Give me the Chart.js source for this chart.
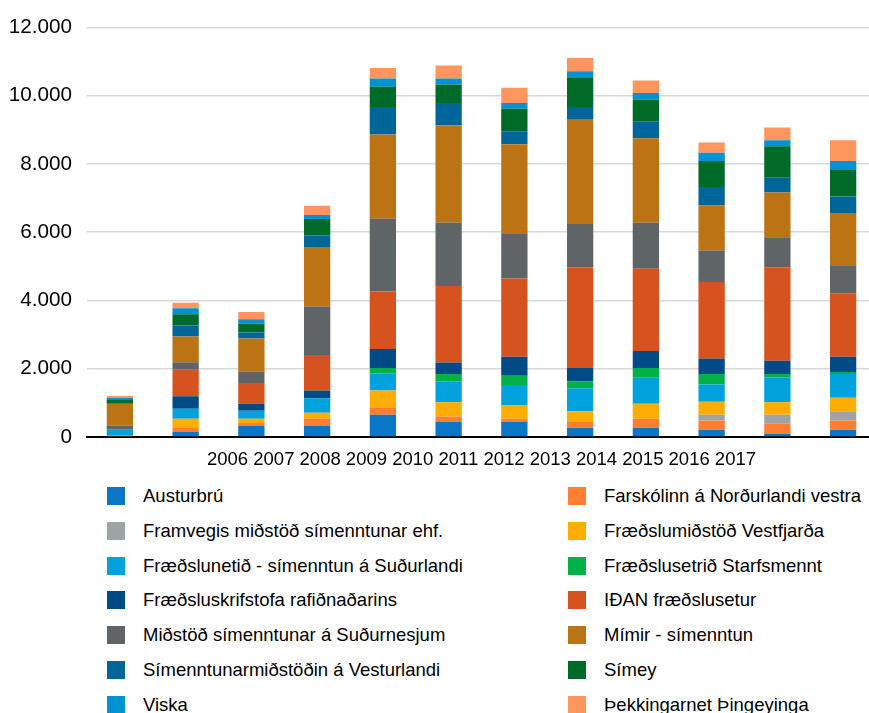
<!DOCTYPE html>
<html>
<head>
<meta charset="utf-8">
<script src="https://cdn.jsdelivr.net/npm/chart.js@4.4.1/dist/chart.umd.min.js"></script>
<style>
  html, body { margin: 0; padding: 0; background: #fff; overflow: hidden; }
  body { width: 869px; height: 713px; position: relative; font-family: 'Liberation Sans', Arial, sans-serif; }
  #wrap { position: absolute; left: 0; top: 0; width: 876px; height: 475px; }
  #legend {
    position: absolute; left: 107px; top: 478.6px;
    display: grid; grid-template-columns: 461px auto; grid-auto-rows: 34.83px;
    margin: 0; padding: 0; list-style: none;
  }
  #legend li { display: flex; align-items: center; font-size: 18.5px; color: #000; white-space: nowrap; }
  #legend .box { width: 18px; height: 18px; margin-right: 18px; flex: none; }
</style>
</head>
<body>
<div id="wrap"><canvas id="chart"></canvas></div>
<ul id="legend"></ul>
<script>
const years = ['2006', '2007', '2008', '2009', '2010', '2011', '2012', '2013', '2014', '2015', '2016', '2017']

// one array per provider, bottom of the stack first
const austurbru = [0, 146, 321, 321, 651, 437, 437, 272, 272, 214, 97, 214]
const farskolinn = [60, 117, 87, 214, 224, 165, 97, 165, 262, 272, 292, 272]
const framvegis = [0, 0, 0, 0, 0, 0, 0, 0, 0, 165, 262, 272]
const vestfjarda = [0, 272, 126, 175, 486, 418, 389, 321, 437, 379, 369, 389]
const fraedslunetid = [150, 292, 233, 428, 505, 612, 602, 670, 767, 505, 729, 700]
const starfsmennt = [0, 0, 0, 0, 155, 214, 272, 204, 282, 311, 97, 58]
const rafidnadarins = [0, 369, 204, 224, 554, 340, 554, 389, 496, 457, 389, 447]
const idan = [0, 777, 612, 1040, 1691, 2235, 2293, 2953, 2410, 2235, 2740, 1856]
const sudurnesjum = [117, 214, 330, 1419, 2128, 1866, 1302, 1263, 1360, 923, 875, 826]
const mimir = [641, 758, 971, 1749, 2468, 2847, 2633, 3061, 2468, 1322, 1312, 1526]
const vesturlandi = [20, 321, 175, 330, 806, 651, 379, 369, 496, 544, 437, 486]
const simey = [117, 330, 262, 486, 602, 544, 661, 875, 641, 758, 923, 777]
const viska = [40, 175, 126, 117, 233, 175, 165, 175, 185, 243, 175, 262]
const thekkingarnet = [58, 165, 214, 272, 311, 379, 447, 389, 369, 301, 369, 612]

const seriesNames = [
  'Austurbrú',
  'Farskólinn á Norðurlandi vestra',
  'Framvegis miðstöð símenntunar ehf.',
  'Fræðslumiðstöð Vestfjarða',
  'Fræðslunetið - símenntun á Suðurlandi',
  'Fræðslusetrið Starfsmennt',
  'Fræðsluskrifstofa rafiðnaðarins',
  'IÐAN fræðslusetur',
  'Miðstöð símenntunar á Suðurnesjum',
  'Mímir - símenntun',
  'Símenntunarmiðstöðin á Vesturlandi',
  'Símey',
  'Viska',
  'Þekkingarnet Þingeyinga'
]
const seriesValues = [austurbru, farskolinn, framvegis, vestfjarda, fraedslunetid, starfsmennt,
  rafidnadarins, idan, sudurnesjum, mimir, vesturlandi, simey, viska, thekkingarnet]
const seriesColors = ['#0a77c6', '#ff7f32', '#9ea3a6', '#ffad00', '#00a2de', '#00b147',
  '#004a86', '#d6531f', '#5f6567', '#bc7314', '#006699', '#006b28', '#0093d3', '#ff965e']

const FONT = "'Liberation Sans', Arial, sans-serif"

const datasets = seriesNames.map((name, i) => ({
  label: name,
  data: seriesValues[i],
  backgroundColor: seriesColors[i],
  borderWidth: 0
}))

function dotThousands (v) {
  return String(v).replace(/\B(?=(\d{3})+(?!\d))/g, '.')
}

const chart = new Chart(document.getElementById('chart'), {
  type: 'bar',
  data: { labels: years, datasets },
  options: {
    animation: false,
    responsive: true,
    maintainAspectRatio: false,
    layout: { padding: { top: 25, right: 0, bottom: 0, left: 0 } },
    datasets: { bar: { categoryPercentage: 1, barPercentage: 0.4 } },
    plugins: {
      legend: { display: false },
      tooltip: { enabled: false }
    },
    scales: {
      x: {
        stacked: true,
        z: 1,
        grid: { display: false },
        border: { display: true, color: '#000', width: 2 },
        ticks: { display: false },
        title: {
          display: true,
          text: years.join(' '),
          color: '#000',
          font: { family: FONT, size: 18.5 },
          padding: { top: 0, bottom: 4 }
        },
        afterFit (scale) { scale.height = 38 }
      },
      y: {
        stacked: true,
        min: 0,
        max: 12000,
        border: { display: false },
        grid: {
          drawTicks: false,
          lineWidth: 1.5,
          color: (ctx) => ctx.tick && ctx.tick.value === 0 ? 'rgba(0,0,0,0)' : '#d5d9d9'
        },
        ticks: {
          stepSize: 2000,
          padding: 15,
          color: '#000',
          font: { family: FONT, size: 20.7 },
          callback: (v) => dotThousands(v)
        },
        afterFit (scale) { scale.width = 87 }
      }
    }
  }
})

// html legend, two columns like the original
const legendEl = document.getElementById('legend')
chart.data.datasets.forEach((ds) => {
  const li = document.createElement('li')
  const box = document.createElement('span')
  box.className = 'box'
  box.style.background = ds.backgroundColor
  li.appendChild(box)
  li.appendChild(document.createTextNode(ds.label))
  legendEl.appendChild(li)
})
</script>
</body>
</html>
